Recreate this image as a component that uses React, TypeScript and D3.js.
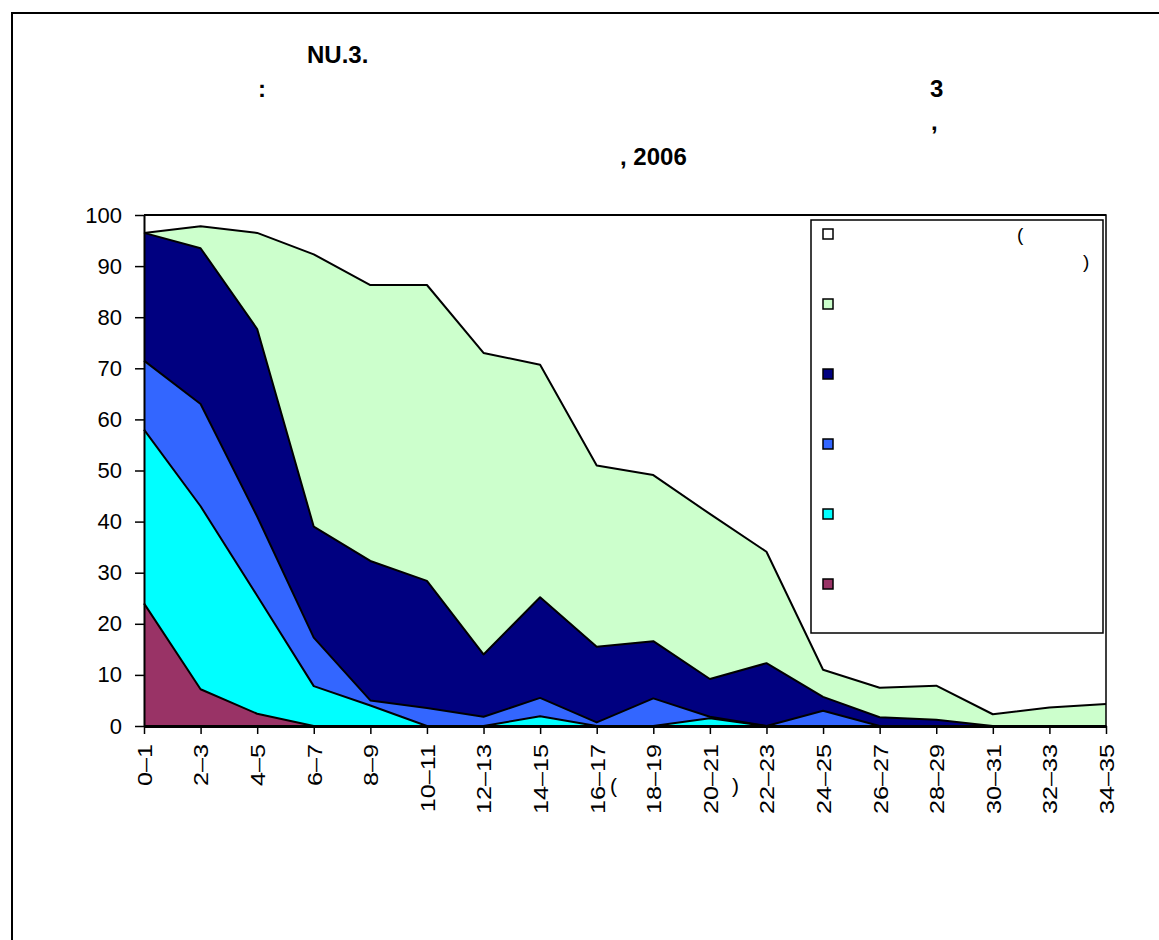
import React, { useEffect, useRef } from 'react'
import * as d3 from 'd3'

const categories = ['0–1', '2–3', '4–5', '6–7', '8–9', '10–11', '12–13', '14–15', '16–17', '18–19', '20–21', '22–23', '24–25', '26–27', '28–29', '30–31', '32–33', '34–35']

// stacked bottom to top
const maroon = [24, 7.2, 2.4, 0, 0, 0, 0, 0, 0, 0, 0, 0, 0, 0, 0, 0, 0, 0]
const cyan = [34, 35.8, 23.1, 7.8, 4, 0, 0, 1.9, 0, 0, 1.5, 0, 0, 0, 0, 0, 0, 0]
const blue = [13.5, 20, 15.5, 9.5, 1, 3.5, 1.8, 3.6, 0.7, 5.4, 0.3, 0, 3, 0, 0, 0, 0, 0]
const navy = [25, 30.5, 36.7, 21.7, 27.3, 24.9, 12.2, 19.7, 14.8, 11.2, 7.4, 12.3, 2.7, 1.7, 1.2, 0, 0, 0]
const green = [0, 4.3, 18.8, 53.3, 54, 57.9, 59, 45.5, 35.5, 32.5, 32.3, 21.8, 5.3, 5.8, 6.7, 2.3, 3.6, 4.3]
const white = [3.5, 2.2, 3.5, 7.7, 13.7, 13.7, 27, 29.3, 49, 50.9, 58.5, 65.9, 89, 92.5, 92.1, 97.7, 96.4, 95.7]

const yTicks = [0, 10, 20, 30, 40, 50, 60, 70, 80, 90, 100]

const keys = ['maroon', 'cyan', 'blue', 'navy', 'green', 'white']
const colors: Record<string, string> = {
  maroon: '#993366',
  cyan: '#00ffff',
  blue: '#3366ff',
  navy: '#000080',
  green: '#ccffcc',
  white: '#ffffff'
}
// legend goes top to bottom
const legendKeys = ['white', 'green', 'navy', 'blue', 'cyan', 'maroon']

const font = 'Liberation Sans, Arial, sans-serif'

export default function App() {
  const ref = useRef<SVGSVGElement>(null)

  useEffect(() => {
    const svg = d3.select(ref.current)
    svg.selectAll('*').remove()

    const left = 144, right = 1106, top = 215, bottom = 726

    const x = d3.scalePoint().domain(categories).range([left, right])
    const y = d3.scaleLinear().domain([0, 100]).range([bottom, top])

    const table = categories.map((c, i) => ({
      cat: c,
      maroon: maroon[i],
      cyan: cyan[i],
      blue: blue[i],
      navy: navy[i],
      green: green[i],
      white: white[i]
    }))
    const stacked = d3.stack<any>().keys(keys)(table)

    // outer frame
    svg.append('rect')
      .attr('x', 12).attr('y', 13).attr('width', 1200).attr('height', 1000)
      .attr('fill', 'white').attr('stroke', 'black').attr('stroke-width', 2)

    const area = d3.area<any>()
      .x(d => x(d.data.cat)!)
      .y0(d => y(d[0]))
      .y1(d => y(d[1]))
    const topLine = d3.line<any>()
      .x(d => x(d.data.cat)!)
      .y(d => y(d[1]))

    const g = svg.append('g')
    stacked.forEach(s => {
      g.append('path').attr('d', area(s)).attr('fill', colors[s.key])
    })
    stacked.forEach(s => {
      g.append('path').attr('d', topLine(s)).attr('fill', 'none')
        .attr('stroke', 'black').attr('stroke-width', 2).attr('stroke-linejoin', 'round')
    })

    // plot area border (top + right)
    svg.append('path')
      .attr('d', `M${left},${top}H${right}V${bottom}`)
      .attr('fill', 'none').attr('stroke', 'black').attr('stroke-width', 1.5)

    // y axis
    const ya = svg.append('g')
      .attr('transform', `translate(${left},0)`)
      .call(d3.axisLeft(y).tickValues(yTicks).tickSize(9).tickSizeOuter(0).tickPadding(13))
    ya.select('.domain').attr('stroke-width', 2)
    ya.selectAll('line').attr('stroke-width', 1.5)
    ya.selectAll('text').attr('font-size', 22).attr('font-family', font).attr('fill', 'black')

    // x axis
    const xa = svg.append('g')
      .attr('transform', `translate(0,${bottom})`)
      .call(d3.axisBottom(x).tickSize(8).tickSizeOuter(0))
    xa.select('.domain').attr('stroke-width', 3)
    xa.selectAll('line').attr('stroke-width', 1.5)
    xa.selectAll('text')
      .attr('font-size', 21).attr('font-family', font).attr('fill', 'black')
      .attr('text-anchor', 'end')
      .attr('transform', 'rotate(-90) scale(1.2,1)')
      .attr('x', -15).attr('y', 0).attr('dy', '0.35em')

    // x axis title fragments
    const xt = svg.append('g').attr('font-family', font).attr('font-size', 21)
    xt.append('text').attr('x', 610).attr('y', 793).text('(')
    xt.append('text').attr('x', 732).attr('y', 793).text(')')

    // legend
    svg.append('rect')
      .attr('x', 811).attr('y', 220).attr('width', 292).attr('height', 413)
      .attr('fill', 'white').attr('stroke', 'black').attr('stroke-width', 1.5)
    legendKeys.forEach((k, i) => {
      svg.append('rect')
        .attr('x', 823).attr('y', 229 + i * 70).attr('width', 10).attr('height', 10)
        .attr('fill', colors[k]).attr('stroke', 'black').attr('stroke-width', 1.5)
    })
    const lt = svg.append('g').attr('font-family', font).attr('font-size', 19)
    lt.append('text').attr('x', 1017).attr('y', 241).text('(')
    lt.append('text').attr('x', 1083).attr('y', 268).text(')')

    // title fragments
    const tt = svg.append('g').attr('font-family', font).attr('font-size', 24).attr('font-weight', 'bold')
    tt.append('text').attr('x', 307).attr('y', 63).text('NU.3.')
    tt.append('text').attr('x', 258).attr('y', 97).text(':')
    tt.append('text').attr('x', 930).attr('y', 97).text('3')
    tt.append('text').attr('x', 931).attr('y', 130).text(',')
    tt.append('text').attr('x', 620).attr('y', 165).text(', 2006')
  }, [])

  return (
    <svg ref={ref} width={1159} height={940}
      style={{ position: 'absolute', left: 0, top: 0, background: 'white' }} />
  )
}
